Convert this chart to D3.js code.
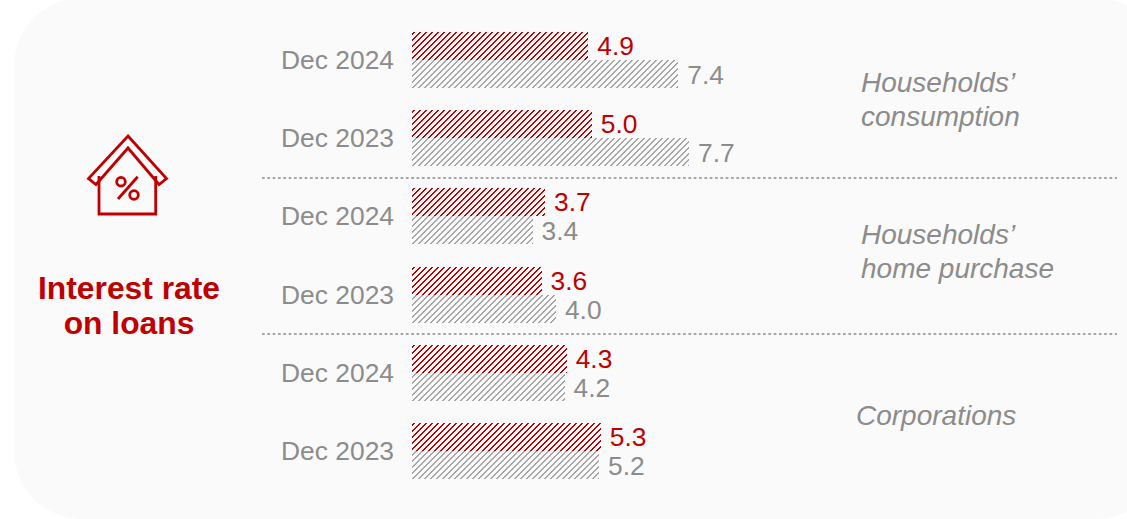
<!DOCTYPE html>
<html><head><meta charset="utf-8">
<script src="https://cdn.jsdelivr.net/npm/d3@7"></script>
<style>html,body{margin:0;padding:0;background:#fff;overflow:hidden}svg{display:block}text{font-family:"Liberation Sans",Arial,sans-serif}</style>
</head><body><svg id="c" width="1127" height="519"></svg>
<script>
const periods = ["Dec 2024","Dec 2023","Dec 2024","Dec 2023","Dec 2024","Dec 2023"];
const redValues = [4.9,5.0,3.7,3.6,4.3,5.25];
const grayValues = [7.4,7.7,3.35,4.0,4.24,5.2];
const sectionLines = [["Households’","consumption"],["Households’","home purchase"],["Corporations"]];
const titleLines = ["Interest rate","on loans"];
const RED="#c00000", GRAY="#a6a6a6", LABEL="#8c8c8c";
const svg=d3.select("#c");
const defs=svg.append("defs");
function hatch(id,color,b){
  const s=6;
  const p=defs.append("pattern").attr("id",id).attr("patternUnits","userSpaceOnUse").attr("width",s).attr("height",s).attr("x",412).attr("y",32);
  d3.range(s).forEach(r=>{
    d3.range(b).forEach(k=>{
      p.append("rect").attr("x",(s-1-r+k)%s).attr("y",r).attr("width",1).attr("height",1).attr("fill",color).attr("shape-rendering","crispEdges");
    });
  });
}
hatch("hr",RED,2);hatch("hg",GRAY,2);
svg.append("rect").attr("x",14).attr("y",-2).attr("width",1150).attr("height",521).attr("rx",68).attr("fill","#fafafa");

const x=d3.scaleLinear().domain([0,7.7]).range([412,689]);
const y=d3.scaleBand().domain(d3.range(periods.length)).range([32,501]).paddingInner(0).paddingOuter(0);
const barH=28;
const g=svg.append("g");
const rows=g.selectAll("g").data(periods).join("g").attr("transform",(d,i)=>`translate(0,${Math.round(y(i))})`);
rows.append("rect").attr("x",x(0)).attr("y",0).attr("height",barH).attr("width",(d,i)=>Math.round(x(redValues[i])-x(0))).attr("fill","url(#hr)");
rows.append("rect").attr("x",x(0)).attr("y",barH).attr("height",barH).attr("width",(d,i)=>Math.round(x(grayValues[i])-x(0))).attr("fill","url(#hg)");
rows.append("text").attr("x",394).attr("y",barH+9).attr("text-anchor","end").attr("font-size",26.4).attr("fill",LABEL).text(d=>d);
rows.append("text").attr("x",(d,i)=>x(redValues[i])+9).attr("y",barH-5).attr("font-size",26.4).attr("fill",RED).text((d,i)=>redValues[i].toFixed(1));
rows.append("text").attr("x",(d,i)=>x(grayValues[i])+9).attr("y",barH+24).attr("font-size",26.4).attr("fill",LABEL).text((d,i)=>grayValues[i].toFixed(1));

svg.selectAll("line.sep").data([178,334]).join("line").attr("class","sep").attr("x1",262).attr("x2",1117).attr("y1",d=>d).attr("y2",d=>d).attr("stroke","#a6a6a6").attr("stroke-width",2).attr("stroke-dasharray","2.7 2.63");

const secPos=[[861,92],[861,244],[856,425]];
sectionLines.forEach((ls,i)=>{ls.forEach((t,j)=>{svg.append("text").attr("x",secPos[i][0]).attr("y",secPos[i][1]+j*33.5).attr("font-size",28).attr("font-style","italic").attr("fill",LABEL).text(t);});});
titleLines.forEach((t,j)=>svg.append("text").attr("x",129).attr("y",299+j*35).attr("text-anchor","middle").attr("font-size",31.8).attr("font-weight","bold").attr("fill",RED).text(t));

const ic=svg.append("g").attr("fill","none").attr("stroke",RED).attr("stroke-width",2.8);
ic.append("path").attr("d","M128,136L166.5,178.5L159,184.5L128,148L96,184.5L88.5,178.5Z");
ic.append("path").attr("d","M99,176V214H155.7V176");
ic.append("path").attr("d","M118,199L137.7,176.7");
ic.append("circle").attr("cx",121).attr("cy",181.7).attr("r",4.3);
ic.append("circle").attr("cx",134).attr("cy",195).attr("r",4.3);
</script></body></html>
